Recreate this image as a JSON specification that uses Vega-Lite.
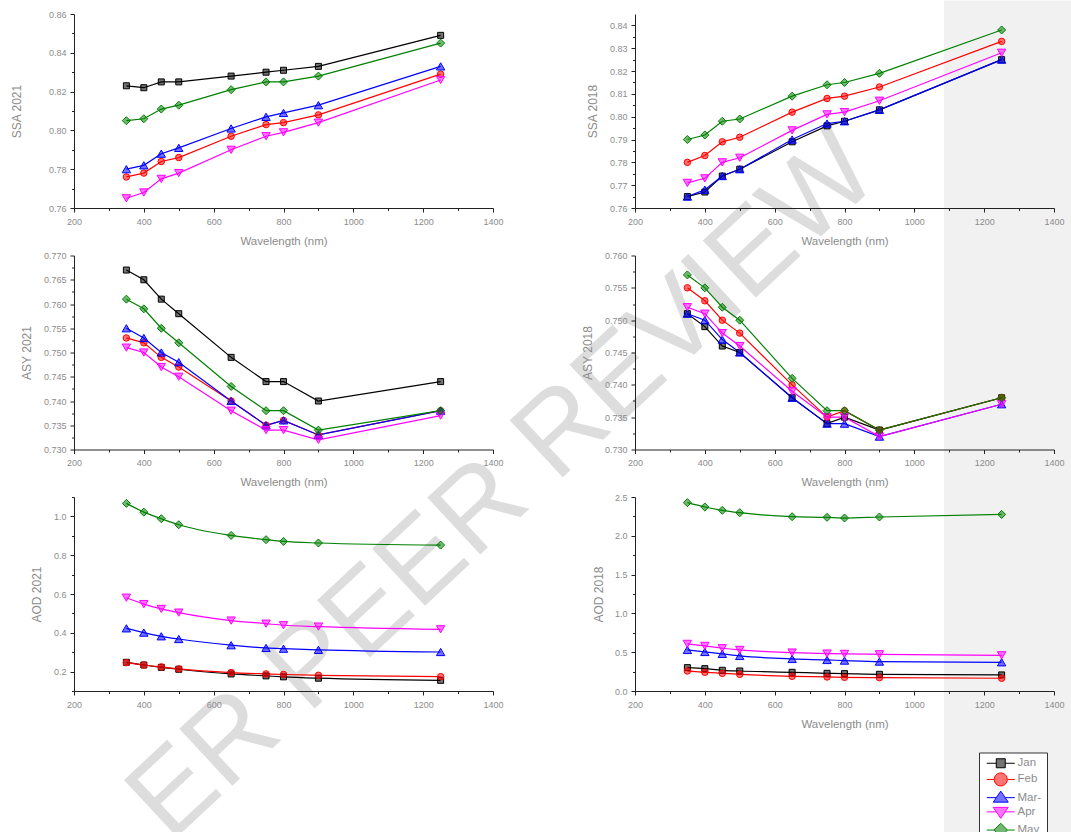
{
"$schema": "https://vega.github.io/schema/vega-lite/v6.json",
"background": "#ffffff",
"padding": {"left": 10, "top": 0, "right": 0, "bottom": 0},
"config": {
  "font": "Liberation Sans",
  "view": {"stroke": null},
  "axis": {"grid": false, "domainColor": "#222222", "domainWidth": 1, "tickColor": "#222222", "tickWidth": 1, "tickSize": 4, "labelColor": "#8c8c8c", "titleColor": "#8c8c8c", "labelFontSize": 9, "labelFont": "Liberation Sans", "titleFont": "Liberation Sans", "titleFontWeight": "normal", "titleFontSize": 11.5, "labelPadding": 4, "labelFlush": false},
  "axisX": {"titlePadding": 9, "labelPadding": 5, "format": "d"},
  "axisY": {"titleFontSize": 12, "titlePadding": 9.5}
},
"datasets": {"d": [
{"m":"Jan","wl":350,"s21":0.823,"s18":0.765,"a21":0.767,"a18":0.751,"o21":0.248,"o18":0.301},
{"m":"Jan","wl":400,"s21":0.822,"s18":0.767,"a21":0.765,"a18":0.749,"o21":0.234,"o18":0.288},
{"m":"Jan","wl":450,"s21":0.825,"s18":0.774,"a21":0.761,"a18":0.746,"o21":0.222,"o18":0.267},
{"m":"Jan","wl":500,"s21":0.825,"s18":0.777,"a21":0.758,"a18":0.745,"o21":0.212,"o18":0.258},
{"m":"Jan","wl":650,"s21":0.828,"s18":0.789,"a21":0.749,"a18":0.738,"o21":0.188,"o18":0.241},
{"m":"Jan","wl":750,"s21":0.830,"s18":0.796,"a21":0.744,"a18":0.734,"o21":0.178,"o18":0.228},
{"m":"Jan","wl":800,"s21":0.831,"s18":0.798,"a21":0.744,"a18":0.735,"o21":0.173,"o18":0.224},
{"m":"Jan","wl":900,"s21":0.833,"s18":0.803,"a21":0.740,"a18":0.733,"o21":0.166,"o18":0.215},
{"m":"Jan","wl":1250,"s21":0.849,"s18":0.825,"a21":0.744,"a18":0.738,"o21":0.155,"o18":0.207},
{"m":"Feb","wl":350,"s21":0.776,"s18":0.780,"a21":0.753,"a18":0.755,"o21":0.246,"o18":0.258},
{"m":"Feb","wl":400,"s21":0.778,"s18":0.783,"a21":0.752,"a18":0.753,"o21":0.234,"o18":0.241},
{"m":"Feb","wl":450,"s21":0.784,"s18":0.789,"a21":0.749,"a18":0.750,"o21":0.224,"o18":0.228},
{"m":"Feb","wl":500,"s21":0.786,"s18":0.791,"a21":0.747,"a18":0.748,"o21":0.214,"o18":0.215},
{"m":"Feb","wl":650,"s21":0.797,"s18":0.802,"a21":0.740,"a18":0.740,"o21":0.195,"o18":0.189},
{"m":"Feb","wl":750,"s21":0.803,"s18":0.808,"a21":0.735,"a18":0.735,"o21":0.188,"o18":0.181},
{"m":"Feb","wl":800,"s21":0.804,"s18":0.809,"a21":0.736,"a18":0.736,"o21":0.185,"o18":0.176},
{"m":"Feb","wl":900,"s21":0.808,"s18":0.813,"a21":0.733,"a18":0.733,"o21":0.181,"o18":0.172},
{"m":"Feb","wl":1250,"s21":0.829,"s18":0.833,"a21":0.738,"a18":0.738,"o21":0.174,"o18":0.164},
{"m":"Mar-","wl":350,"s21":0.780,"s18":0.765,"a21":0.755,"a18":0.751,"o21":0.423,"o18":0.529},
{"m":"Mar-","wl":400,"s21":0.782,"s18":0.768,"a21":0.753,"a18":0.750,"o21":0.401,"o18":0.503},
{"m":"Mar-","wl":450,"s21":0.788,"s18":0.774,"a21":0.750,"a18":0.747,"o21":0.382,"o18":0.478},
{"m":"Mar-","wl":500,"s21":0.791,"s18":0.777,"a21":0.748,"a18":0.745,"o21":0.368,"o18":0.452},
{"m":"Mar-","wl":650,"s21":0.801,"s18":0.790,"a21":0.740,"a18":0.738,"o21":0.336,"o18":0.413},
{"m":"Mar-","wl":750,"s21":0.807,"s18":0.797,"a21":0.735,"a18":0.734,"o21":0.322,"o18":0.400},
{"m":"Mar-","wl":800,"s21":0.809,"s18":0.798,"a21":0.736,"a18":0.734,"o21":0.318,"o18":0.392},
{"m":"Mar-","wl":900,"s21":0.813,"s18":0.803,"a21":0.733,"a18":0.732,"o21":0.312,"o18":0.379},
{"m":"Mar-","wl":1250,"s21":0.833,"s18":0.825,"a21":0.738,"a18":0.737,"o21":0.301,"o18":0.370},
{"m":"Apr","wl":350,"s21":0.765,"s18":0.771,"a21":0.751,"a18":0.752,"o21":0.581,"o18":0.607},
{"m":"Apr","wl":400,"s21":0.768,"s18":0.773,"a21":0.750,"a18":0.751,"o21":0.548,"o18":0.581},
{"m":"Apr","wl":450,"s21":0.775,"s18":0.780,"a21":0.747,"a18":0.748,"o21":0.523,"o18":0.551},
{"m":"Apr","wl":500,"s21":0.778,"s18":0.782,"a21":0.745,"a18":0.746,"o21":0.504,"o18":0.529},
{"m":"Apr","wl":650,"s21":0.790,"s18":0.794,"a21":0.738,"a18":0.739,"o21":0.463,"o18":0.495},
{"m":"Apr","wl":750,"s21":0.797,"s18":0.801,"a21":0.734,"a18":0.735,"o21":0.447,"o18":0.482},
{"m":"Apr","wl":800,"s21":0.799,"s18":0.802,"a21":0.734,"a18":0.735,"o21":0.439,"o18":0.478},
{"m":"Apr","wl":900,"s21":0.804,"s18":0.807,"a21":0.732,"a18":0.732,"o21":0.432,"o18":0.473},
{"m":"Apr","wl":1250,"s21":0.826,"s18":0.828,"a21":0.737,"a18":0.737,"o21":0.418,"o18":0.460},
{"m":"May","wl":350,"s21":0.805,"s18":0.790,"a21":0.761,"a18":0.757,"o21":1.067,"o18":2.427},
{"m":"May","wl":400,"s21":0.806,"s18":0.792,"a21":0.759,"a18":0.755,"o21":1.022,"o18":2.371},
{"m":"May","wl":450,"s21":0.811,"s18":0.798,"a21":0.755,"a18":0.752,"o21":0.988,"o18":2.328},
{"m":"May","wl":500,"s21":0.813,"s18":0.799,"a21":0.752,"a18":0.750,"o21":0.957,"o18":2.298},
{"m":"May","wl":650,"s21":0.821,"s18":0.809,"a21":0.743,"a18":0.741,"o21":0.902,"o18":2.246},
{"m":"May","wl":750,"s21":0.825,"s18":0.814,"a21":0.738,"a18":0.736,"o21":0.880,"o18":2.238},
{"m":"May","wl":800,"s21":0.825,"s18":0.815,"a21":0.738,"a18":0.736,"o21":0.871,"o18":2.229},
{"m":"May","wl":900,"s21":0.828,"s18":0.819,"a21":0.734,"a18":0.733,"o21":0.863,"o18":2.242},
{"m":"May","wl":1250,"s21":0.845,"s18":0.838,"a21":0.738,"a18":0.738,"o21":0.852,"o18":2.276}
]},
"data": {"name": "d"},
"columns": 2,
"spacing": {"row": 47.5, "column": 142},
"bounds": "flush",
"concat": [
 {"width": 419, "height": 194,
  "layer": [
   {"data": {"values": [{}]}, "mark": {"type": "text", "text": "ER PEER REVIEW", "angle": -43, "fontSize": 113, "font": "Liberation Sans", "color": "#dddddd", "align": "center", "baseline": "middle"},
    "encoding": {"x": {"datum": 1428.6, "type": "quantitative", "axis": null}, "y": {"datum": 0.6164, "type": "quantitative", "axis": null}}},
   {"mark": {"type": "line", "strokeWidth": 1.2},
    "encoding": {
     "x": {"field": "wl", "type": "quantitative", "scale": {"domain": [200, 1400], "nice": false, "zero": false}, "axis": {"orient": "bottom", "zindex": 1, "values": [200,400,600,800,1000,1200,1400], "title": "Wavelength (nm)"}},
     "y": {"field": "s21", "type": "quantitative", "scale": {"domain": [0.76, 0.86], "nice": false, "zero": false}, "axis": {"orient": "left", "zindex": 1, "values": [0.76,0.78,0.8,0.82,0.84,0.86], "format": ".2f", "title": "SSA 2021", "titlePadding": 24.5}},
     "color": {"field": "m", "type": "nominal", "scale": {"domain": ["Jan","Feb","Mar-","Apr","May"], "range": ["#000000","#ff0000","#0000ff","#ff00ff","#008000"]},
      "legend": {"orient": "none", "legendX": 905, "legendY": 738.5, "title": null, "padding": 5, "strokeColor": "#333333", "fillColor": "#ffffff", "symbolOffset": 11, "labelOffset": 11, "symbolSize": 100, "rowPadding": 0.2, "labelFontSize": 11.5, "labelColor": "#8c8c8c", "labelFont": "Liberation Sans",
       "encode": {"symbols": {"update": {
        "shape": {"signal": "datum.value === 'Jan' ? 'M-2.8,0H-0.9M0.9,0H2.8M-0.9,-0.9H0.9V0.9H-0.9Z' : datum.value === 'Feb' ? 'M-2.8,0H-1.3M1.3,0H2.8M-1.3,0A1.3,1.3,0,1,0,1.3,0A1.3,1.3,0,1,0,-1.3,0Z' : datum.value === 'Mar-' ? 'M-2.8,0H-0.89M0.89,0H2.8M0,-1.3L1.5,0.9L-1.5,0.9Z' : datum.value === 'Apr' ? 'M-2.8,0H-0.89M0.89,0H2.8M0,1.3L1.5,-0.9L-1.5,-0.9Z' : 'M-2.8,0H-1.35M1.35,0H2.8M0,-1.35L1.35,0L0,1.35L-1.35,0Z'"},
        "fill": {"scale": "color", "field": "value"},
        "stroke": {"scale": "color", "field": "value"},
        "fillOpacity": {"value": 0.55},
        "strokeWidth": {"value": 1},
        "opacity": {"value": 1}}}}}}
    }},
   {"mark": {"type": "point", "filled": true, "opacity": 1, "fillOpacity": 0.55, "strokeWidth": 1},
    "encoding": {
     "x": {"field": "wl", "type": "quantitative", "scale": {"domain": [200, 1400], "nice": false, "zero": false}, "axis": {"orient": "bottom", "zindex": 1, "values": [300,500,700,900,1100,1300], "labels": false, "domain": false, "title": null, "tickSize": 2.5}},
     "y": {"field": "s21", "type": "quantitative", "scale": {"domain": [0.76, 0.86], "nice": false, "zero": false}, "axis": {"orient": "left", "zindex": 1, "values": [0.77,0.79,0.81,0.83,0.85], "labels": false, "domain": false, "title": null, "tickSize": 2.5}},
     "color": {"field": "m", "type": "nominal", "scale": {"domain": ["Jan","Feb","Mar-","Apr","May"], "range": ["#000000","#ff0000","#0000ff","#ff00ff","#008000"]}},
     "stroke": {"field": "m", "type": "nominal", "scale": {"domain": ["Jan","Feb","Mar-","Apr","May"], "range": ["#000000","#ff0000","#0000ff","#ff00ff","#008000"]}, "legend": null},
     "shape": {"condition": [{"test": "datum.m === 'Jan'", "value": "square"}, {"test": "datum.m === 'Feb'", "value": "circle"}, {"test": "datum.m === 'Mar-'", "value": "triangle-up"}, {"test": "datum.m === 'Apr'", "value": "triangle-down"}], "value": "diamond"},
     "size": {"condition": [{"test": "datum.m === 'Jan'", "value": 36}, {"test": "datum.m === 'Feb'", "value": 42}, {"test": "datum.m === 'Mar-' || datum.m === 'Apr'", "value": 70}], "value": 64}
    }}
  ],
  "resolve": {"axis": {"x": "independent", "y": "independent"}}
 },
 {"width": 419, "height": 194,
  "layer": [
   {"data": {"values": [{}]}, "mark": {"type": "rect", "color": "#f1f1f1"},
    "encoding": {"x": {"datum": 1085, "type": "quantitative", "axis": null}, "x2": {"datum": 1454}, "y": {"datum": 0.8509, "type": "quantitative", "axis": null}, "y2": {"datum": 0.735}}},
   {"mark": {"type": "line", "strokeWidth": 1.2},
    "encoding": {
     "x": {"field": "wl", "type": "quantitative", "scale": {"domain": [200, 1400], "nice": false, "zero": false}, "axis": {"orient": "bottom", "zindex": 1, "values": [200,400,600,800,1000,1200,1400], "title": "Wavelength (nm)"}},
     "y": {"field": "s18", "type": "quantitative", "scale": {"domain": [0.76, 0.845], "nice": false, "zero": false}, "axis": {"orient": "left", "zindex": 1, "values": [0.76,0.77,0.78,0.79,0.8,0.81,0.82,0.83,0.84], "format": ".2f", "title": "SSA 2018"}},
     "color": {"field": "m", "type": "nominal", "scale": {"domain": ["Jan","Feb","Mar-","Apr","May"], "range": ["#000000","#ff0000","#0000ff","#ff00ff","#008000"]}}
    }},
   {"mark": {"type": "point", "filled": true, "opacity": 1, "fillOpacity": 0.55, "strokeWidth": 1},
    "encoding": {
     "x": {"field": "wl", "type": "quantitative", "scale": {"domain": [200, 1400], "nice": false, "zero": false}, "axis": {"orient": "bottom", "zindex": 1, "values": [300,500,700,900,1100,1300], "labels": false, "domain": false, "title": null, "tickSize": 2.5}},
     "y": {"field": "s18", "type": "quantitative", "scale": {"domain": [0.76, 0.845], "nice": false, "zero": false}, "axis": {"orient": "left", "zindex": 1, "values": [0.765,0.775,0.785,0.795,0.805,0.815,0.825,0.835], "labels": false, "domain": false, "title": null, "tickSize": 2.5}},
     "color": {"field": "m", "type": "nominal", "scale": {"domain": ["Jan","Feb","Mar-","Apr","May"], "range": ["#000000","#ff0000","#0000ff","#ff00ff","#008000"]}},
     "stroke": {"field": "m", "type": "nominal", "scale": {"domain": ["Jan","Feb","Mar-","Apr","May"], "range": ["#000000","#ff0000","#0000ff","#ff00ff","#008000"]}, "legend": null},
     "shape": {"condition": [{"test": "datum.m === 'Jan'", "value": "square"}, {"test": "datum.m === 'Feb'", "value": "circle"}, {"test": "datum.m === 'Mar-'", "value": "triangle-up"}, {"test": "datum.m === 'Apr'", "value": "triangle-down"}], "value": "diamond"},
     "size": {"condition": [{"test": "datum.m === 'Jan'", "value": 36}, {"test": "datum.m === 'Feb'", "value": 42}, {"test": "datum.m === 'Mar-' || datum.m === 'Apr'", "value": 70}], "value": 64}
    }}
  ],
  "resolve": {"axis": {"x": "independent", "y": "independent"}}
 },
 {"width": 419, "height": 194,
  "layer": [
   {"mark": {"type": "line", "strokeWidth": 1.2},
    "encoding": {
     "x": {"field": "wl", "type": "quantitative", "scale": {"domain": [200, 1400], "nice": false, "zero": false}, "axis": {"orient": "bottom", "zindex": 1, "values": [200,400,600,800,1000,1200,1400], "title": "Wavelength (nm)"}},
     "y": {"field": "a21", "type": "quantitative", "scale": {"domain": [0.73, 0.77], "nice": false, "zero": false}, "axis": {"orient": "left", "zindex": 1, "values": [0.73,0.735,0.74,0.745,0.75,0.755,0.76,0.765,0.77], "format": ".3f", "title": "ASY 2021"}},
     "color": {"field": "m", "type": "nominal", "scale": {"domain": ["Jan","Feb","Mar-","Apr","May"], "range": ["#000000","#ff0000","#0000ff","#ff00ff","#008000"]}}
    }},
   {"mark": {"type": "point", "filled": true, "opacity": 1, "fillOpacity": 0.55, "strokeWidth": 1},
    "encoding": {
     "x": {"field": "wl", "type": "quantitative", "scale": {"domain": [200, 1400], "nice": false, "zero": false}, "axis": {"orient": "bottom", "zindex": 1, "values": [300,500,700,900,1100,1300], "labels": false, "domain": false, "title": null, "tickSize": 2.5}},
     "y": {"field": "a21", "type": "quantitative", "scale": {"domain": [0.73, 0.77], "nice": false, "zero": false}, "axis": {"orient": "left", "zindex": 1, "values": [0.7325,0.7375,0.7425,0.7475,0.7525,0.7575,0.7625,0.7675], "labels": false, "domain": false, "title": null, "tickSize": 2.5}},
     "color": {"field": "m", "type": "nominal", "scale": {"domain": ["Jan","Feb","Mar-","Apr","May"], "range": ["#000000","#ff0000","#0000ff","#ff00ff","#008000"]}},
     "stroke": {"field": "m", "type": "nominal", "scale": {"domain": ["Jan","Feb","Mar-","Apr","May"], "range": ["#000000","#ff0000","#0000ff","#ff00ff","#008000"]}, "legend": null},
     "shape": {"condition": [{"test": "datum.m === 'Jan'", "value": "square"}, {"test": "datum.m === 'Feb'", "value": "circle"}, {"test": "datum.m === 'Mar-'", "value": "triangle-up"}, {"test": "datum.m === 'Apr'", "value": "triangle-down"}], "value": "diamond"},
     "size": {"condition": [{"test": "datum.m === 'Jan'", "value": 36}, {"test": "datum.m === 'Feb'", "value": 42}, {"test": "datum.m === 'Mar-' || datum.m === 'Apr'", "value": 70}], "value": 64}
    }}
  ],
  "resolve": {"axis": {"x": "independent", "y": "independent"}}
 },
 {"width": 419, "height": 194,
  "layer": [
   {"data": {"values": [{}]}, "mark": {"type": "rect", "color": "#f1f1f1"},
    "encoding": {"x": {"datum": 1085, "type": "quantitative", "axis": null}, "x2": {"datum": 1454}, "y": {"datum": 0.762, "type": "quantitative", "axis": null}, "y2": {"datum": 0.72}}},
   {"mark": {"type": "line", "strokeWidth": 1.2},
    "encoding": {
     "x": {"field": "wl", "type": "quantitative", "scale": {"domain": [200, 1400], "nice": false, "zero": false}, "axis": {"orient": "bottom", "zindex": 1, "values": [200,400,600,800,1000,1200,1400], "title": "Wavelength (nm)"}},
     "y": {"field": "a18", "type": "quantitative", "scale": {"domain": [0.73, 0.76], "nice": false, "zero": false}, "axis": {"orient": "left", "zindex": 1, "values": [0.73,0.735,0.74,0.745,0.75,0.755,0.76], "format": ".3f", "title": "ASY 2018"}},
     "color": {"field": "m", "type": "nominal", "scale": {"domain": ["Jan","Feb","Mar-","Apr","May"], "range": ["#000000","#ff0000","#0000ff","#ff00ff","#008000"]}}
    }},
   {"mark": {"type": "point", "filled": true, "opacity": 1, "fillOpacity": 0.55, "strokeWidth": 1},
    "encoding": {
     "x": {"field": "wl", "type": "quantitative", "scale": {"domain": [200, 1400], "nice": false, "zero": false}, "axis": {"orient": "bottom", "zindex": 1, "values": [300,500,700,900,1100,1300], "labels": false, "domain": false, "title": null, "tickSize": 2.5}},
     "y": {"field": "a18", "type": "quantitative", "scale": {"domain": [0.73, 0.76], "nice": false, "zero": false}, "axis": {"orient": "left", "zindex": 1, "values": [0.7325,0.7375,0.7425,0.7475,0.7525,0.7575], "labels": false, "domain": false, "title": null, "tickSize": 2.5}},
     "color": {"field": "m", "type": "nominal", "scale": {"domain": ["Jan","Feb","Mar-","Apr","May"], "range": ["#000000","#ff0000","#0000ff","#ff00ff","#008000"]}},
     "stroke": {"field": "m", "type": "nominal", "scale": {"domain": ["Jan","Feb","Mar-","Apr","May"], "range": ["#000000","#ff0000","#0000ff","#ff00ff","#008000"]}, "legend": null},
     "shape": {"condition": [{"test": "datum.m === 'Jan'", "value": "square"}, {"test": "datum.m === 'Feb'", "value": "circle"}, {"test": "datum.m === 'Mar-'", "value": "triangle-up"}, {"test": "datum.m === 'Apr'", "value": "triangle-down"}], "value": "diamond"},
     "size": {"condition": [{"test": "datum.m === 'Jan'", "value": 36}, {"test": "datum.m === 'Feb'", "value": 42}, {"test": "datum.m === 'Mar-' || datum.m === 'Apr'", "value": 70}], "value": 64}
    }}
  ],
  "resolve": {"axis": {"x": "independent", "y": "independent"}}
 },
 {"width": 419, "height": 194,
  "layer": [
   {"mark": {"type": "line", "strokeWidth": 1.2, "interpolate": "monotone"},
    "encoding": {
     "x": {"field": "wl", "type": "quantitative", "scale": {"domain": [200, 1400], "nice": false, "zero": false}, "axis": {"orient": "bottom", "zindex": 1, "values": [200,400,600,800,1000,1200,1400], "title": null}},
     "y": {"field": "o21", "type": "quantitative", "scale": {"domain": [0.1, 1.1], "nice": false, "zero": false}, "axis": {"orient": "left", "zindex": 1, "values": [0.2,0.4,0.6,0.8,1.0], "format": ".1f", "title": "AOD 2021"}},
     "color": {"field": "m", "type": "nominal", "scale": {"domain": ["Jan","Feb","Mar-","Apr","May"], "range": ["#000000","#ff0000","#0000ff","#ff00ff","#008000"]}}
    }},
   {"mark": {"type": "point", "filled": true, "opacity": 1, "fillOpacity": 0.55, "strokeWidth": 1},
    "encoding": {
     "x": {"field": "wl", "type": "quantitative", "scale": {"domain": [200, 1400], "nice": false, "zero": false}, "axis": {"orient": "bottom", "zindex": 1, "values": [300,500,700,900,1100,1300], "labels": false, "domain": false, "title": null, "tickSize": 2.5}},
     "y": {"field": "o21", "type": "quantitative", "scale": {"domain": [0.1, 1.1], "nice": false, "zero": false}, "axis": {"orient": "left", "zindex": 1, "values": [0.1,0.3,0.5,0.7,0.9,1.1], "labels": false, "domain": false, "title": null, "tickSize": 2.5}},
     "color": {"field": "m", "type": "nominal", "scale": {"domain": ["Jan","Feb","Mar-","Apr","May"], "range": ["#000000","#ff0000","#0000ff","#ff00ff","#008000"]}},
     "stroke": {"field": "m", "type": "nominal", "scale": {"domain": ["Jan","Feb","Mar-","Apr","May"], "range": ["#000000","#ff0000","#0000ff","#ff00ff","#008000"]}, "legend": null},
     "shape": {"condition": [{"test": "datum.m === 'Jan'", "value": "square"}, {"test": "datum.m === 'Feb'", "value": "circle"}, {"test": "datum.m === 'Mar-'", "value": "triangle-up"}, {"test": "datum.m === 'Apr'", "value": "triangle-down"}], "value": "diamond"},
     "size": {"condition": [{"test": "datum.m === 'Jan'", "value": 36}, {"test": "datum.m === 'Feb'", "value": 42}, {"test": "datum.m === 'Mar-' || datum.m === 'Apr'", "value": 70}], "value": 64}
    }}
  ],
  "resolve": {"axis": {"x": "independent", "y": "independent"}}
 },
 {"width": 419, "height": 194,
  "layer": [
   {"data": {"values": [{}]}, "mark": {"type": "rect", "color": "#f1f1f1"},
    "encoding": {"x": {"datum": 1085, "type": "quantitative", "axis": null}, "x2": {"datum": 1454}, "y": {"datum": 2.6, "type": "quantitative", "axis": null}, "y2": {"datum": -1.823}}},
   {"mark": {"type": "line", "strokeWidth": 1.2, "interpolate": "monotone"},
    "encoding": {
     "x": {"field": "wl", "type": "quantitative", "scale": {"domain": [200, 1400], "nice": false, "zero": false}, "axis": {"orient": "bottom", "zindex": 1, "values": [200,400,600,800,1000,1200,1400], "title": "Wavelength (nm)"}},
     "y": {"field": "o18", "type": "quantitative", "scale": {"domain": [0, 2.5], "nice": false, "zero": false}, "axis": {"orient": "left", "zindex": 1, "values": [0,0.5,1,1.5,2,2.5], "format": ".1f", "title": "AOD 2018", "titlePadding": 8.5}},
     "color": {"field": "m", "type": "nominal", "scale": {"domain": ["Jan","Feb","Mar-","Apr","May"], "range": ["#000000","#ff0000","#0000ff","#ff00ff","#008000"]}}
    }},
   {"mark": {"type": "point", "filled": true, "opacity": 1, "fillOpacity": 0.55, "strokeWidth": 1},
    "encoding": {
     "x": {"field": "wl", "type": "quantitative", "scale": {"domain": [200, 1400], "nice": false, "zero": false}, "axis": {"orient": "bottom", "zindex": 1, "values": [300,500,700,900,1100,1300], "labels": false, "domain": false, "title": null, "tickSize": 2.5}},
     "y": {"field": "o18", "type": "quantitative", "scale": {"domain": [0, 2.5], "nice": false, "zero": false}, "axis": {"orient": "left", "zindex": 1, "values": [0.25,0.75,1.25,1.75,2.25], "labels": false, "domain": false, "title": null, "tickSize": 2.5}},
     "color": {"field": "m", "type": "nominal", "scale": {"domain": ["Jan","Feb","Mar-","Apr","May"], "range": ["#000000","#ff0000","#0000ff","#ff00ff","#008000"]}},
     "stroke": {"field": "m", "type": "nominal", "scale": {"domain": ["Jan","Feb","Mar-","Apr","May"], "range": ["#000000","#ff0000","#0000ff","#ff00ff","#008000"]}, "legend": null},
     "shape": {"condition": [{"test": "datum.m === 'Jan'", "value": "square"}, {"test": "datum.m === 'Feb'", "value": "circle"}, {"test": "datum.m === 'Mar-'", "value": "triangle-up"}, {"test": "datum.m === 'Apr'", "value": "triangle-down"}], "value": "diamond"},
     "size": {"condition": [{"test": "datum.m === 'Jan'", "value": 36}, {"test": "datum.m === 'Feb'", "value": 42}, {"test": "datum.m === 'Mar-' || datum.m === 'Apr'", "value": 70}], "value": 64}
    }}
  ],
  "resolve": {"axis": {"x": "independent", "y": "independent"}}
 }
]
}
